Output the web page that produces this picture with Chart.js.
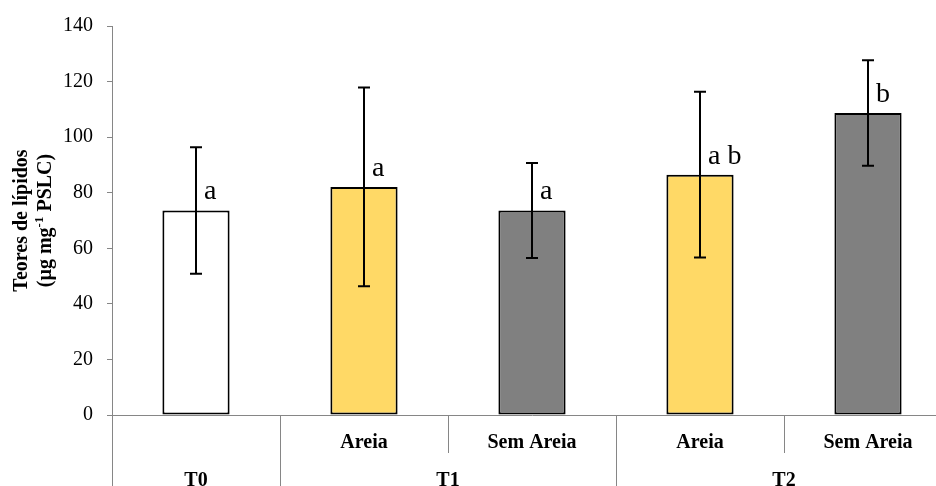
<!DOCTYPE html>
<html>
<head>
<meta charset="utf-8">
<script src="https://cdn.jsdelivr.net/npm/chart.js@4"></script>
<style>
  html, body { margin: 0; padding: 0; overflow: hidden; background: #fff; }
  #chart { display: block; }
</style>
</head>
<body>
<canvas id="chart" width="960" height="486"></canvas>
<script>
// Data
const subLabels = ['', 'Areia', 'Sem Areia', 'Areia', 'Sem Areia'];
const groupLabels = ['T0', 'T1', 'T1', 'T2', 'T2'];
const means = [73.6, 82.1, 73.6, 86.5, 108.7];
const errors = [22.8, 35.8, 17.1, 29.8, 19.0];
const letters = ['a', 'a', 'a', 'a b', 'b'];
const barColors = ['#FFFFFF', '#FFD966', '#808080', '#FFD966', '#808080'];
const yMin = 0, yMax = 140, yStep = 20;
const yTitle = ['Teores de lípidos', ['(µg mg', '-1', ' PSLC)']];

const serif = '"Liberation Serif", "Times New Roman", serif';
const axisGray = '#868686';

// error bars + significance letters
const errorBarPlugin = {
    id: 'errorBars',
    afterDatasetsDraw(chart) {
        const { ctx, scales: { x, y } } = chart;
        ctx.save();
        ctx.strokeStyle = '#000';
        ctx.lineWidth = 2;
        means.forEach((m, i) => {
            const px = x.getPixelForValue(i);
            const top = y.getPixelForValue(m + errors[i]);
            const bot = y.getPixelForValue(m - errors[i]);
            ctx.beginPath();
            ctx.moveTo(px, top); ctx.lineTo(px, bot);
            ctx.moveTo(px - 6, top); ctx.lineTo(px + 6, top);
            ctx.moveTo(px - 6, bot); ctx.lineTo(px + 6, bot);
            ctx.stroke();
        });
        ctx.fillStyle = '#000';
        ctx.font = '28px ' + serif;
        ctx.textAlign = 'left';
        ctx.textBaseline = 'alphabetic';
        letters.forEach((t, i) => {
            ctx.fillText(t, x.getPixelForValue(i) + 8, y.getPixelForValue(means[i]) - 11);
        });
        ctx.restore();
    }
};

// two-level category axis drawn under the plot
const groupAxisPlugin = {
    id: 'groupAxis',
    afterDraw(chart) {
        const { ctx, chartArea, scales: { x } } = chart;
        const half = (x.getPixelForValue(1) - x.getPixelForValue(0)) / 2;
        const base = chartArea.bottom;
        const bottom = chart.height;
        ctx.save();
        ctx.strokeStyle = axisGray;
        ctx.lineWidth = 1;
        ctx.beginPath();
        // y axis continues down through the label area
        ctx.moveTo(chartArea.left + 0.5, base); ctx.lineTo(chartArea.left + 0.5, bottom);
        for (let i = 1; i < subLabels.length; i++) {
            const bx = Math.round(x.getPixelForValue(i) - half) + 0.5;
            const full = groupLabels[i] !== groupLabels[i - 1];
            ctx.moveTo(bx, base);
            ctx.lineTo(bx, full ? bottom : base + 38);
        }
        ctx.stroke();

        ctx.fillStyle = '#000';
        ctx.font = 'bold 20px ' + serif;
        ctx.textAlign = 'center';
        ctx.textBaseline = 'alphabetic';
        subLabels.forEach((t, i) => ctx.fillText(t, x.getPixelForValue(i), base + 33));

        let start = 0;
        for (let i = 1; i <= groupLabels.length; i++) {
            if (i === groupLabels.length || groupLabels[i] !== groupLabels[start]) {
                const cx = (x.getPixelForValue(start) + x.getPixelForValue(i - 1)) / 2;
                ctx.fillText(groupLabels[start], cx, base + 71);
                start = i;
            }
        }
        ctx.restore();
    }
};

// rotated y title with superscript
const yTitlePlugin = {
    id: 'yTitle',
    afterDraw(chart) {
        const { ctx, chartArea } = chart;
        const cy = (chartArea.top + chartArea.bottom) / 2;
        ctx.save();
        ctx.fillStyle = '#000';
        ctx.textBaseline = 'alphabetic';

        ctx.translate(27, cy);
        ctx.rotate(-Math.PI / 2);
        ctx.font = 'bold 20px ' + serif;
        ctx.textAlign = 'center';
        ctx.fillText(yTitle[0], 0, 0);
        ctx.restore();

        ctx.save();
        ctx.fillStyle = '#000';
        ctx.textBaseline = 'alphabetic';
        ctx.translate(51, cy);
        ctx.rotate(-Math.PI / 2);
        ctx.textAlign = 'left';
        const parts = yTitle[1];
        const fonts = ['bold 20px ' + serif, 'bold 13px ' + serif, 'bold 20px ' + serif];
        const rise = [0, -8, 0];
        let total = 0;
        const widths = parts.map((p, i) => { ctx.font = fonts[i]; const w = ctx.measureText(p).width; total += w; return w; });
        let px = -total / 2;
        parts.forEach((p, i) => {
            ctx.font = fonts[i];
            ctx.fillText(p, px, rise[i]);
            px += widths[i];
        });
        ctx.restore();
    }
};

const ctx = document.getElementById('chart').getContext('2d');
const chart = new Chart(ctx, {
    type: 'bar',
    data: {
        labels: subLabels,
        datasets: [{
            data: means,
            backgroundColor: barColors,
            borderColor: '#000',
            borderWidth: 2,
            borderSkipped: false,
            barPercentage: 0.4,
            categoryPercentage: 1
        }]
    },
    options: {
        responsive: false,
        animation: false,
        devicePixelRatio: 1,
        layout: { padding: { top: 23, right: 8, left: 0, bottom: 0 } },
        plugins: {
            legend: { display: false },
            tooltip: { enabled: false }
        },
        scales: {
            x: {
                grid: { display: false },
                ticks: { display: false },
                border: { display: true, color: axisGray, width: 1 },
                afterFit(scale) { scale.height = 71; }
            },
            y: {
                min: yMin,
                max: yMax,
                ticks: {
                    stepSize: yStep,
                    color: '#000',
                    padding: 14,
                    font: { family: serif, size: 20 }
                },
                grid: { drawOnChartArea: false, tickLength: 5, color: axisGray },
                border: { display: true, color: axisGray, width: 1 },
                afterFit(scale) { scale.width = 112; }
            }
        }
    },
    plugins: [errorBarPlugin, groupAxisPlugin, yTitlePlugin]
});
</script>
</body>
</html>
